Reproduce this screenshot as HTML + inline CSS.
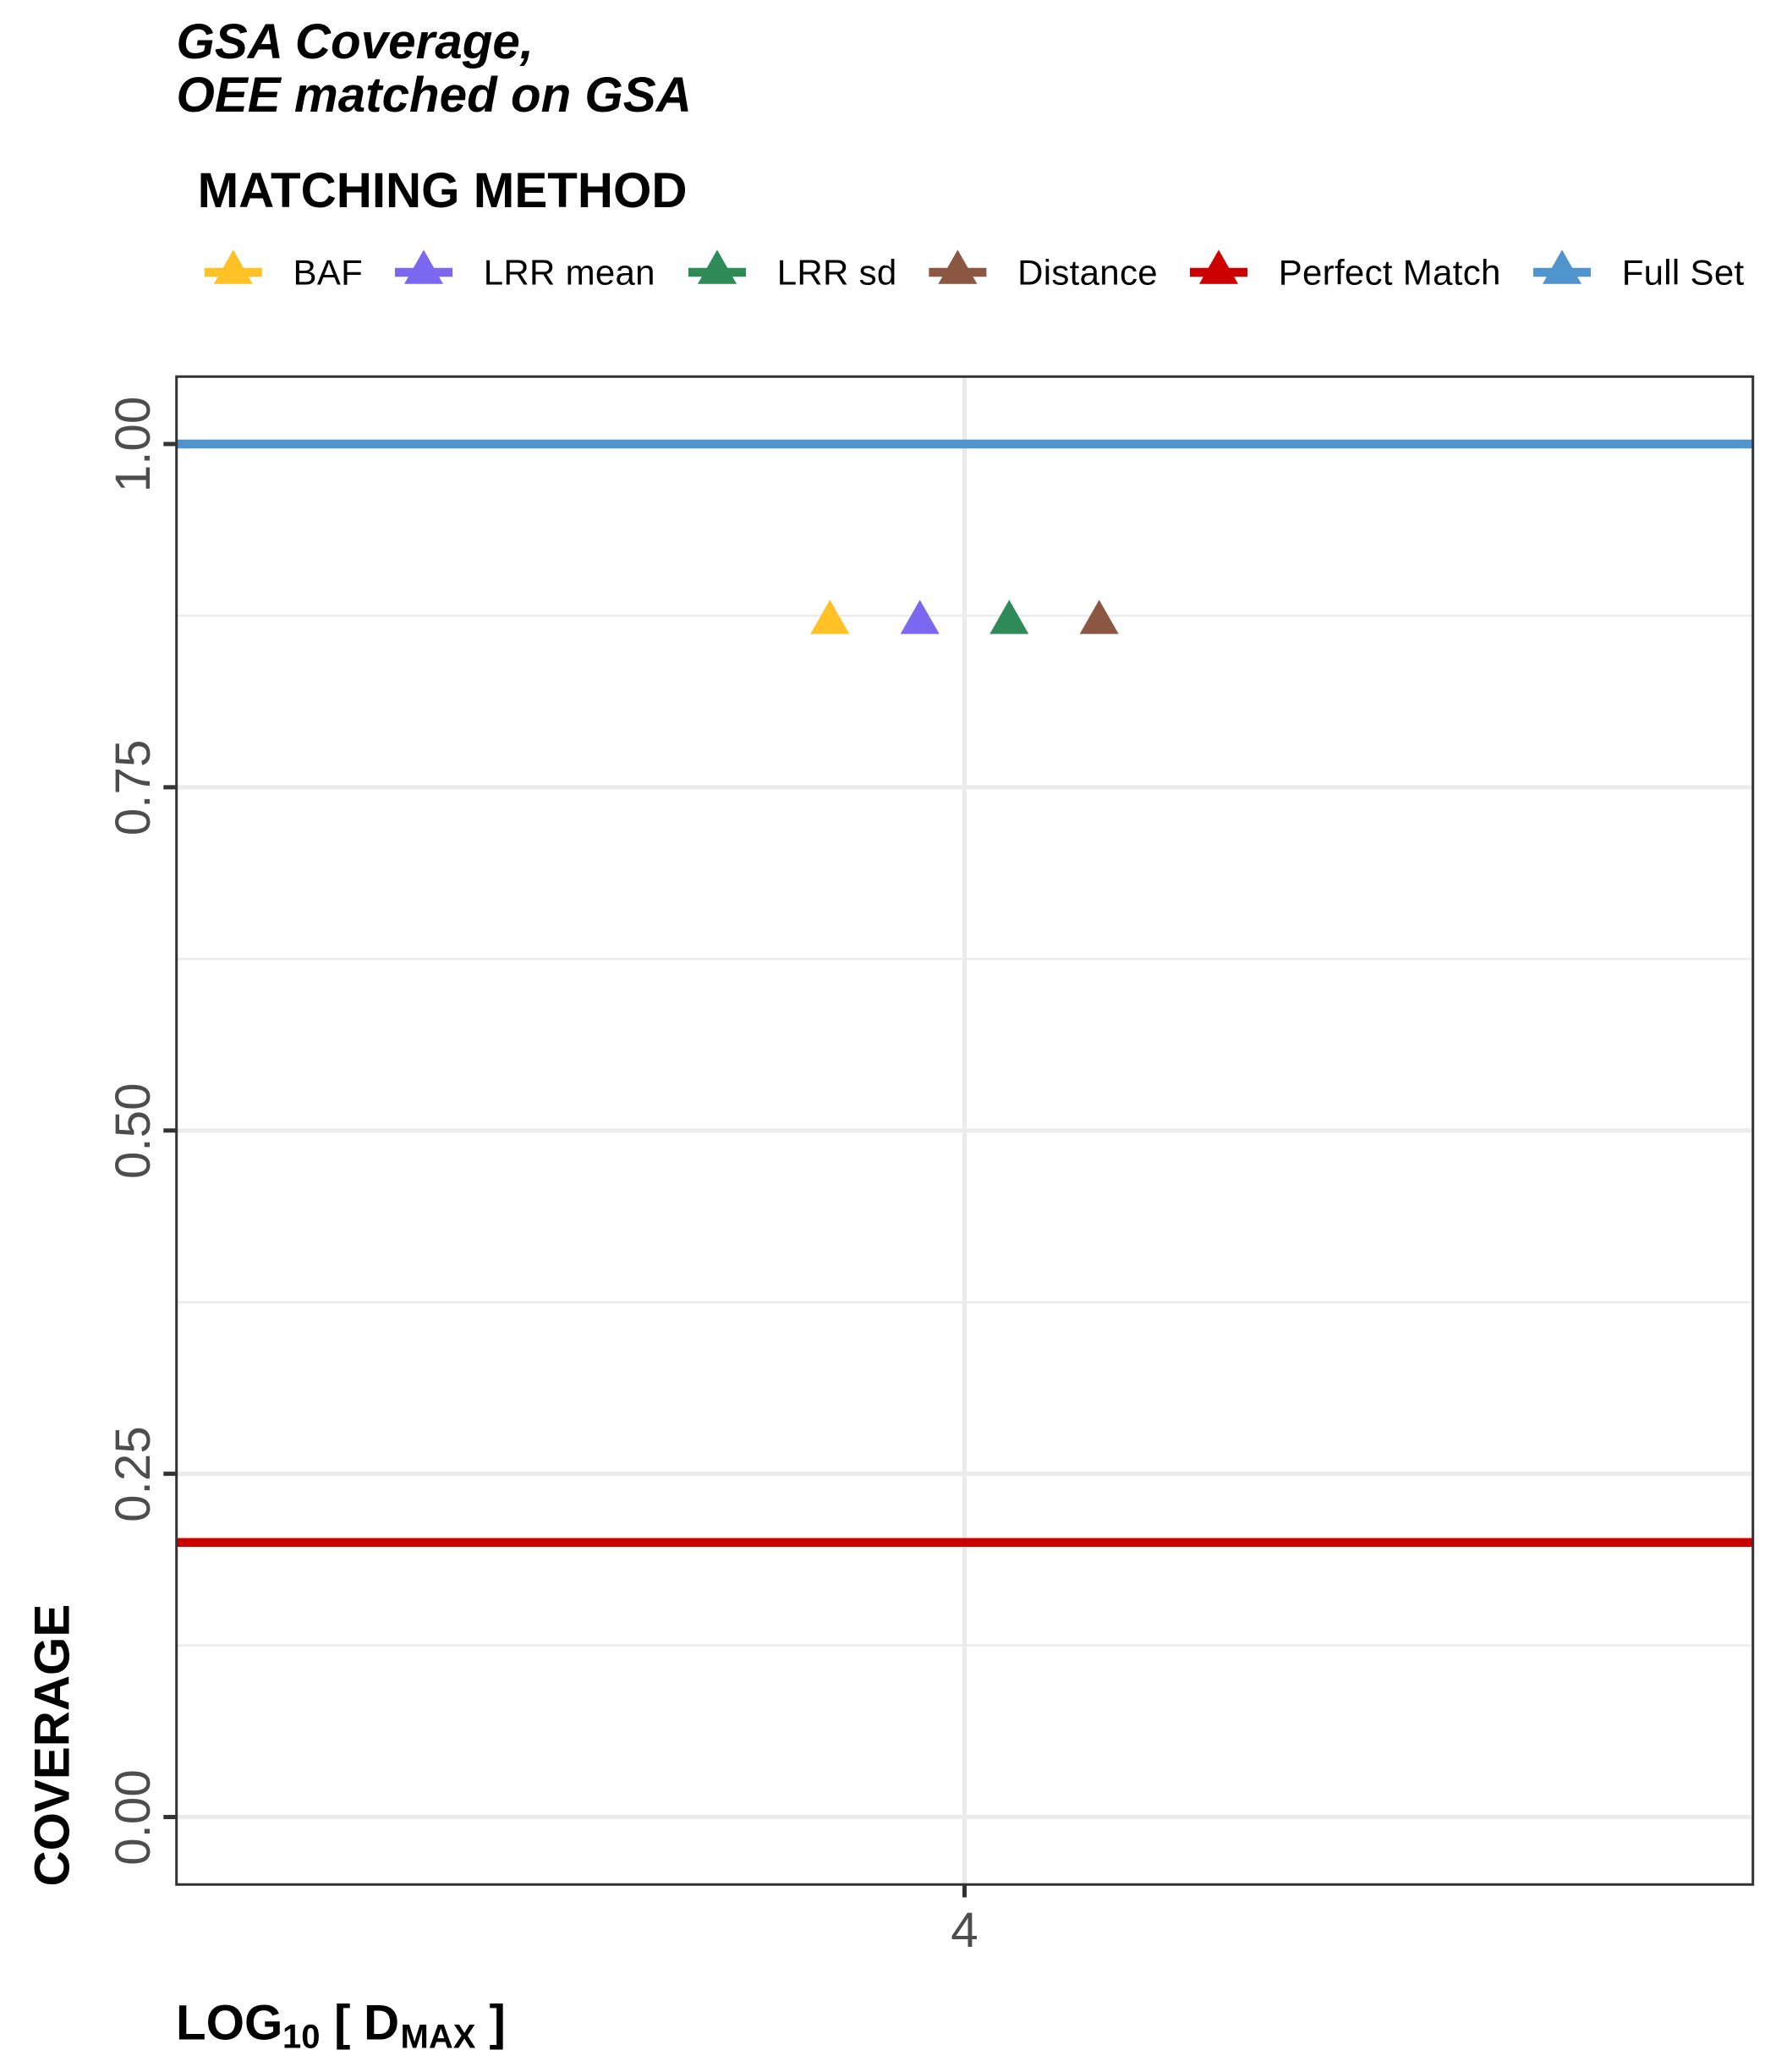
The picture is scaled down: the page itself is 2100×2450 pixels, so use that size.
<!DOCTYPE html>
<html lang="en">
<head>
<meta charset="utf-8">
<title>GSA Coverage, OEE matched on GSA</title>
<style>
html,body{margin:0;padding:0;background:#fff;width:2100px;height:2450px;overflow:hidden}
svg{display:block}
text{font-family:"Liberation Sans",Arial,sans-serif}
</style>
</head>
<body>
<svg id="chart" xmlns="http://www.w3.org/2000/svg" width="2100" height="2450" viewBox="0 0 2100 2450">
<rect x="0" y="0" width="2100" height="2450" fill="#ffffff"/>
<g id="grid"></g>
<g id="lines"></g>
<g id="points"></g>
<rect x="208.7" y="445.3" width="1864" height="1783" fill="none" stroke="#333333" stroke-width="3"/>
<g id="axes"></g>
<g id="legend"></g>
<text x="208.5" y="69" font-size="58.33" font-weight="bold" font-style="italic" fill="#000">GSA Coverage,</text>
<text x="208.5" y="132" font-size="58.33" font-weight="bold" font-style="italic" fill="#000">OEE matched on GSA</text>
<text x="233.6" y="245" font-size="58.33" font-weight="bold" fill="#000">MATCHING METHOD</text>
<text transform="translate(81.7,2230.5) rotate(-90)" font-size="58.33" font-weight="bold" fill="#000">COVERAGE</text>
<text y="2411.3" font-size="58.33" font-weight="bold" fill="#000"><tspan x="208">LOG</tspan><tspan x="334" y="2421.5" font-size="40">10</tspan><tspan x="395" y="2411.3">[</tspan><tspan x="430">D</tspan><tspan x="473.5" y="2421.5" font-size="40">MAX</tspan><tspan x="578.5" y="2411.3">]</tspan></text>
</svg>
<script>
// Data
const methodNames = ["BAF", "LRR mean", "LRR sd", "Distance"];
const methodDmax = [3.8975, 3.966, 4.034, 4.1025];
const methodCoverage = [0.87, 0.87, 0.87, 0.87];
const methodColors = ["#FFC125", "#7B68EE", "#2E8B57", "#8B5742"];
const lineNames = ["Perfect Match", "Full Set"];
const lineCoverage = [0.2, 1.0];
const lineColors = ["#CD0000", "#4F94CD"];
const yTickValues = [0, 0.25, 0.5, 0.75, 1];
const yTickLabels = ["0.00", "0.25", "0.50", "0.75", "1.00"];
const yMinorValues = [0.125, 0.375, 0.625, 0.875];
const xTickValues = [4];
const xTickLabels = ["4"];
const legendLabels = ["BAF", "LRR mean", "LRR sd", "Distance", "Perfect Match", "Full Set"];
const legendColors = ["#FFC125", "#7B68EE", "#2E8B57", "#8B5742", "#CD0000", "#4F94CD"];

// Axis functions
const panelLeft = 208.7, panelRight = 2072.7, panelTop = 445.3, panelBottom = 2228.3;
function yScale(v) { return 2148.5 - v * 1623.5; }
function xScale(v) { return 1140.5 + (v - 4) * 1553; }

const NS = "http://www.w3.org/2000/svg";
function make(tag, parent, attrs) {
  const el = document.createElementNS(NS, tag);
  for (const k in attrs) el.setAttribute(k, attrs[k]);
  parent.appendChild(el);
  return el;
}
function trianglePoints(cx, cy) {
  return (cx - 23) + "," + (cy + 13.6) + " " + (cx + 23) + "," + (cy + 13.6) + " " + cx + "," + (cy - 26.8);
}

const grid = document.getElementById("grid");
const linesG = document.getElementById("lines");
const pointsG = document.getElementById("points");
const axes = document.getElementById("axes");
const legend = document.getElementById("legend");

yMinorValues.forEach(function (v) {
  const el = make("line", grid, { x1: panelLeft, x2: panelRight, y1: yScale(v), y2: yScale(v), stroke: "#EBEBEB", "stroke-width": 2.5 });
  
  
});
yTickValues.forEach(function (v) {
  const el = make("line", grid, { x1: panelLeft, x2: panelRight, y1: yScale(v), y2: yScale(v), stroke: "#EBEBEB", "stroke-width": 5 });
  
  
});
xTickValues.forEach(function (v) {
  const el = make("line", grid, { x1: xScale(v), x2: xScale(v), y1: panelTop, y2: panelBottom, stroke: "#EBEBEB", "stroke-width": 5 });
  
  
});

lineCoverage.forEach(function (v, i) {
  const el = make("line", linesG, { x1: panelLeft, x2: panelRight, y1: yScale(v), y2: yScale(v), stroke: lineColors[i], "stroke-width": 10.4 });
  
  
});

methodCoverage.forEach(function (v, i) {
  const el = make("polygon", pointsG, { points: trianglePoints(xScale(methodDmax[i]), yScale(v)), fill: methodColors[i] });
  
  
});

yTickValues.forEach(function (v, i) {
  const tick = make("line", axes, { x1: 193.3, x2: 208.7, y1: yScale(v), y2: yScale(v), stroke: "#333333", "stroke-width": 5 });
  
  
  const label = make("text", axes, { transform: "translate(176.8," + (yScale(v) + 0.5) + ") rotate(-90)", "text-anchor": "middle", "font-size": 58.33, fill: "#4D4D4D" });
  label.textContent = yTickLabels[i];
  
  
});
xTickValues.forEach(function (v, i) {
  const tick = make("line", axes, { x1: xScale(v), x2: xScale(v), y1: panelBottom, y2: 2243.5, stroke: "#333333", "stroke-width": 5 });
  
  
  const label = make("text", axes, { x: xScale(v), y: 2302, "text-anchor": "middle", "font-size": 58.33, fill: "#4D4D4D" });
  label.textContent = xTickLabels[i];
  
  
});

// Legend layout
const legendCenters = [275.8, 501, 848, 1132.4, 1441, 1847];
legendLabels.forEach(function (name, i) {
  const cx = legendCenters[i];
  const g = make("g", legend, {});
  
  
  const ln = make("line", g, { x1: cx - 34, x2: cx + 34, y1: 322, y2: 322, stroke: legendColors[i], "stroke-width": 10.4 });
  
  
  const tri = make("polygon", g, { points: trianglePoints(cx, 322.2), fill: legendColors[i] });
  
  
  const t = make("text", g, { x: cx + 70.7, y: 336.7, "font-size": 42, "letter-spacing": 0.3, fill: "#000" });
  t.textContent = name;
  
  
});
</script>
</body>
</html>
